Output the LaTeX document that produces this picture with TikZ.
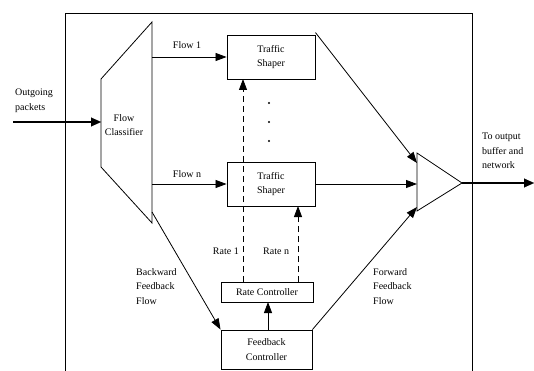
\documentclass[tikz,border=0pt]{standalone}
\usepackage{fontspec}
\setmainfont{Liberation Serif}
\usetikzlibrary{arrows.meta}
\begin{document}
\begin{tikzpicture}[x=1pt,y=-1pt,
  every node/.style={font=\fontsize{10}{14.5}\selectfont, inner sep=0pt},
  box/.style={draw, line width=0.9pt, align=center, minimum width=#1},
  thin/.style={line width=0.8pt},
  thickln/.style={line width=2.6pt},
  tip/.style={-{Triangle[length=11pt,width=8pt]}},
  bigtip/.style={-{Triangle[length=10pt,width=9pt]}},
  dashln/.style={line width=0.8pt, dash pattern=on 6pt off 4pt},
  lbl/.style={align=left, anchor=north west}
]
\useasboundingbox (0,0) rectangle (534,371);
% outer frame (open at bottom)
\draw[thin] (65,371) -- (65,13) -- (472,13) -- (472,371);

% flow classifier trapezoid
\coordinate (fcTL) at (101,79);
\coordinate (fcTR) at (152,22);
\coordinate (fcBR) at (152,223);
\coordinate (fcBL) at (101,167);
\draw[thin] (fcTL) -- (fcTR) -- (fcBR) -- (fcBL) -- cycle;
\node[align=center] (fc) at (124,125) {Flow\\Classifier};

% traffic shapers
\node[box=88pt, minimum height=44pt] (ts1) at (271,57) {Traffic\\Shaper};
\node[box=88pt, minimum height=44pt] (tsn) at (271,184) {Traffic\\Shaper};

% dots
\foreach \y in {103,122,141} \fill (269,\y) circle (1.2pt);

% rate controller and feedback controller
\node[box=92pt, minimum height=20pt] (rc) at (267,292) {Rate Controller};
\node[box=91pt, minimum height=39pt] (fbc) at (266.5,349.5) {Feedback\\Controller};

% output triangle
\coordinate (otT) at (417,153);
\coordinate (otB) at (417,211);
\coordinate (otA) at (462,183);
\draw[thin] (otT) -- (otA) -- (otB) -- cycle;

% input
\coordinate (inS) at (13,122);
\draw[thickln] (inS) -- (95,122);
\draw[bigtip, line width=0.1pt, fill] (80,122) -- (101,122);
\node[lbl] (inl) at (15,89) {Outgoing\\packets};

% output
\coordinate (outE) at (534,183);
\draw[thickln] (otA) -- (526,183);
\draw[bigtip, line width=0.1pt] (515,183) -- (outE);
\node[lbl] (outl) at (482,133) {To output\\buffer and\\network};

% flows
\coordinate (f1s) at (152,57);
\coordinate (fns) at (152,184);
\draw[thin,tip] (f1s) -- (ts1.west);
\draw[thin,tip] (fns) -- (tsn.west);
\node (f1l) at (187,45) {Flow 1};
\node (fnl) at (187,174) {Flow n};

% shapers to output
\coordinate (o1) at (417,163);
\coordinate (on) at (417,184);
\coordinate (of) at (417,207);
\draw[thin,tip] (ts1.north east) ++(0,-2) -- (o1);
\draw[thin,tip] (tsn.east) -- (on);

% rates
\draw[dashln,tip] (243,282) -- (243,79);
\draw[dashln,tip] (298,282) -- (298,206);
\node[anchor=east] (r1l) at (239,251) {Rate 1};
\node[anchor=west] (rnl) at (263,251) {Rate n};

% feedback controller to rate controller
\draw[thin,tip] (268,330) -- (268,302);

% backward feedback
\coordinate (bfs) at (152,212);
\draw[thin,tip] (bfs) -- (fbc.north west);
\node[lbl] (bfl) at (136,268) {Backward\\Feedback\\Flow};

% forward feedback
\draw[thin,tip] (fbc.north east) -- (of);
\node[lbl] (ffl) at (373,268) {Forward\\Feedback\\Flow};
\end{tikzpicture}
\end{document}
